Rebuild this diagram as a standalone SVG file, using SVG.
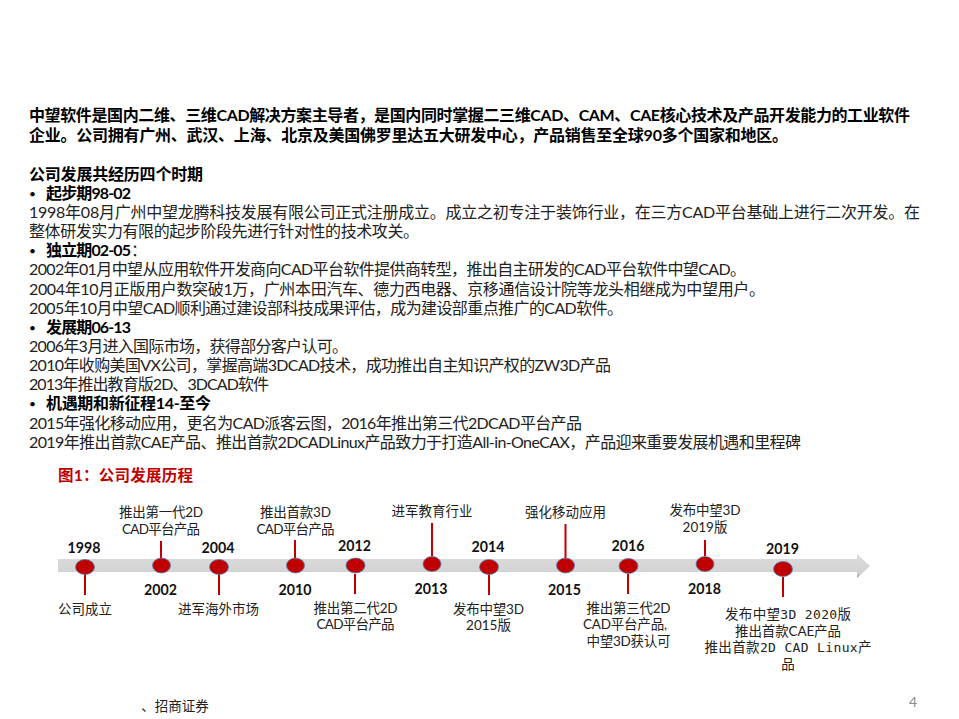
<svg xmlns="http://www.w3.org/2000/svg" width="959" height="719" viewBox="0 0 959 719">
<style>
text{font-family:"Lato","Noto Sans CJK SC",sans-serif;fill:#1a1a1a}
.b{font-size:16px;font-weight:700;fill:#000}
.r{font-size:16px;fill:#222}
.bu{font-size:12px;font-weight:400;fill:#000}
.y{font-size:14.200px;font-weight:700;fill:#111;text-anchor:middle}
.l{font-size:13.500px;fill:#222;text-anchor:middle}
.m{font-family:"DejaVu Sans Mono","Liberation Mono",monospace;font-size:13px}
.stem{stroke:#c00000;stroke-width:2}
.dot{fill:#c00000;stroke:#4f81bd;stroke-width:.8}
</style>
<defs>
<linearGradient id="bar" x1="0" y1="0" x2="0" y2="1"><stop offset="0" stop-color="#dcdcdc"/><stop offset=".8" stop-color="#d2d2d2"/><stop offset="1" stop-color="#a0a0a0"/></linearGradient>
</defs>
<g id="body">
<text class="b" x="29" y="121" textLength="881">中望软件是国内二维、三维CAD解决方案主导者，是国内同时掌握二三维CAD、CAM、CAE核心技术及产品开发能力的工业软件</text>
<text class="b" x="29" y="141" textLength="759">企业。公司拥有广州、武汉、上海、北京及美国佛罗里达五大研发中心，产品销售至全球90多个国家和地区。</text>
<text class="b" x="29" y="180" textLength="174">公司发展共经历四个时期</text>
<text class="bu" x="29" y="198">•</text>
<text class="b" x="46" y="199" textLength="85">起步期98-02</text>
<text class="r" x="29" y="218" textLength="891">1998年08月广州中望龙腾科技发展有限公司正式注册成立。成立之初专注于装饰行业，在三方CAD平台基础上进行二次开发。在</text>
<text class="r" x="29" y="237" textLength="390">整体研发实力有限的起步阶段先进行针对性的技术攻关。</text>
<text class="bu" x="29" y="255">•</text>
<text class="b" x="46" y="256" textLength="85">独立期02-05</text><text class="r" x="131" y="256">：</text>
<text class="r" x="29" y="275" textLength="717">2002年01月中望从应用软件开发商向CAD平台软件提供商转型，推出自主研发的CAD平台软件中望CAD。</text>
<text class="r" x="29" y="295" textLength="736">2004年10月正版用户数突破1万，广州本田汽车、德力西电器、京移通信设计院等龙头相继成为中望用户。</text>
<text class="r" x="29" y="314" textLength="594">2005年10月中望CAD顺利通过建设部科技成果评估，成为建设部重点推广的CAD软件。</text>
<text class="bu" x="29" y="332">•</text>
<text class="b" x="46" y="333" textLength="85">发展期06-13</text>
<text class="r" x="29" y="352" textLength="319">2006年3月进入国际市场，获得部分客户认可。</text>
<text class="r" x="29" y="371" textLength="582">2010年收购美国VX公司，掌握高端3DCAD技术，成功推出自主知识产权的ZW3D产品</text>
<text class="r" x="29" y="390" textLength="240">2013年推出教育版2D、3DCAD软件</text>
<text class="bu" x="29" y="408">•</text>
<text class="b" x="46" y="409" textLength="165">机遇期和新征程14-至今</text>
<text class="r" x="29" y="429" textLength="553">2015年强化移动应用，更名为CAD派客云图，2016年推出第三代2DCAD平台产品</text>
<text class="r" x="29" y="448" textLength="772">2019年推出首款CAE产品、推出首款2DCADLinux产品致力于打造All-in-OneCAX，产品迎来重要发展机遇和里程碑</text>
</g>
<text x="58" y="481" font-size="15.500" font-weight="700" style="fill:#c00000" textLength="135">图1：公司发展历程</text>
<g id="timeline-arrow">
<path d="M58 559H857V554L870 566L857 578V572H58Z" fill="url(#bar)"/>
</g>
<g id="connectors">
<line class="stem" x1="85" y1="574" x2="85" y2="595"/>
<line class="stem" x1="161" y1="541" x2="161" y2="558"/>
<line class="stem" x1="219" y1="574" x2="219" y2="595"/>
<line class="stem" x1="295" y1="540" x2="295" y2="558"/>
<line class="stem" x1="355" y1="574" x2="355" y2="594"/>
<line class="stem" x1="432" y1="523" x2="432" y2="556"/>
<line class="stem" x1="489" y1="574" x2="489" y2="595"/>
<line class="stem" x1="565.500" y1="524" x2="565.500" y2="558"/>
<line class="stem" x1="628" y1="574" x2="628" y2="594"/>
<line class="stem" x1="705" y1="540" x2="705" y2="556"/>
<line class="stem" x1="783" y1="577" x2="783" y2="597"/>
</g>
<g id="n1998"><ellipse class="dot" cx="85" cy="567" rx="9.500" ry="7.500"/><text class="y" x="84" y="553">1998</text><text class="l" x="85" y="614">公司成立</text></g>
<g id="n2002"><ellipse class="dot" cx="161.500" cy="565.500" rx="9" ry="7.500"/><text class="y" x="160.500" y="595">2002</text><text class="l" x="161" y="517" textLength="84">推出第一代2D</text><text class="l" x="161" y="534" textLength="78">CAD平台产品</text></g>
<g id="n2004"><ellipse class="dot" cx="219" cy="567" rx="9.500" ry="7.500"/><text class="y" x="218" y="553">2004</text><text class="l" x="218.500" y="614">进军海外市场</text></g>
<g id="n2010"><ellipse class="dot" cx="295.500" cy="565.500" rx="9" ry="7.500"/><text class="y" x="295" y="595">2010</text><text class="l" x="295.500" y="517" textLength="71">推出首款3D</text><text class="l" x="295.500" y="534" textLength="78">CAD平台产品</text></g>
<g id="n2012"><ellipse class="dot" cx="355.500" cy="565.500" rx="9.500" ry="7.500"/><text class="y" x="354.500" y="551">2012</text><text class="l" x="355.500" y="613" textLength="84">推出第二代2D</text><text class="l" x="355.500" y="629" textLength="78">CAD平台产品</text></g>
<g id="n2013"><ellipse class="dot" cx="432" cy="564" rx="9" ry="7.500"/><text class="y" x="431" y="594">2013</text><text class="l" x="432" y="516">进军教育行业</text></g>
<g id="n2014"><ellipse class="dot" cx="489" cy="567" rx="9.500" ry="7.500"/><text class="y" x="488" y="552">2014</text><text class="l" x="488.500" y="614" textLength="71">发布中望3D</text><text class="l" x="488.500" y="630">2015版</text></g>
<g id="n2015"><ellipse class="dot" cx="565.500" cy="565.500" rx="9" ry="7.500"/><text class="y" x="564.500" y="595">2015</text><text class="l" x="565.500" y="517">强化移动应用</text></g>
<g id="n2016"><ellipse class="dot" cx="628.500" cy="566" rx="9.500" ry="7.500"/><text class="y" x="628" y="551">2016</text><text class="l" x="628.500" y="613" textLength="84">推出第三代2D</text><text class="l" x="625" y="629" textLength="84">CAD平台产品,</text><text class="l" x="628.500" y="646" textLength="84">中望3D获认可</text></g>
<g id="n2018"><ellipse class="dot" cx="705" cy="564" rx="9" ry="7.500"/><text class="y" x="704.500" y="594">2018</text><text class="l" x="705" y="515" textLength="71">发布中望3D</text><text class="l" x="705" y="532">2019版</text></g>
<g id="n2019"><ellipse class="dot" cx="783" cy="569" rx="9.500" ry="7.500"/><text class="y" x="782.500" y="554">2019</text><text class="l" x="788" y="619" textLength="126">发布中望<tspan class="m">3D  2020</tspan>版</text><text class="l" x="788" y="636" textLength="106">推出首款CAE产品</text><text class="l" x="788" y="652" textLength="167">推出首款<tspan class="m">2D  CAD  Linux</tspan>产</text><text class="l" x="788" y="669">品</text></g>
<text class="l" x="175" y="711">、招商证券</text>
<text x="913" y="707" font-size="14" text-anchor="middle" style="fill:#8a8a8a">4</text>
</svg>
